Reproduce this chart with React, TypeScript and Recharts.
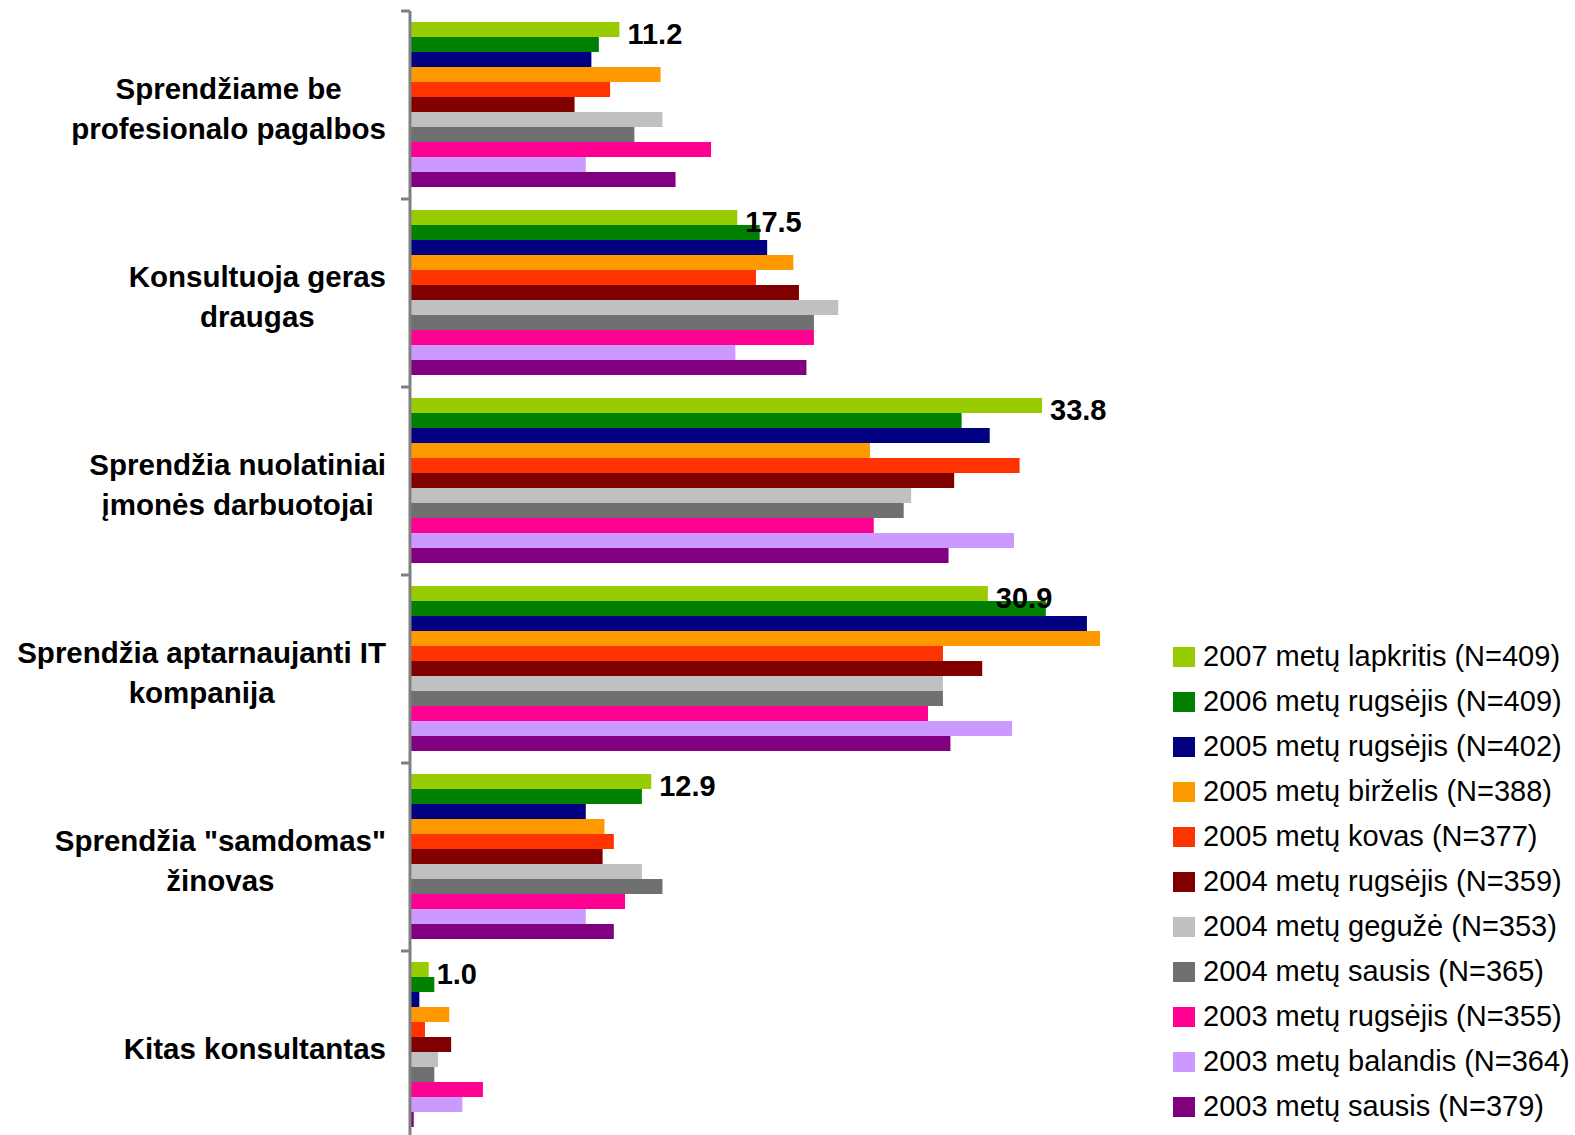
import { BarChart, Bar, XAxis, YAxis, LabelList } from 'recharts';

const categories = [
  ['Sprendžiame be', 'profesionalo pagalbos'],
  ['Konsultuoja geras', 'draugas'],
  ['Sprendžia nuolatiniai', 'įmonės darbuotojai'],
  ['Sprendžia aptarnaujanti IT', 'kompanija'],
  ['Sprendžia "samdomas"', 'žinovas'],
  ['Kitas konsultantas'],
];

const seriesNames = [
  '2007 metų lapkritis (N=409)',
  '2006 metų rugsėjis (N=409)',
  '2005 metų rugsėjis (N=402)',
  '2005 metų birželis (N=388)',
  '2005 metų kovas (N=377)',
  '2004 metų rugsėjis (N=359)',
  '2004 metų gegužė (N=353)',
  '2004 metų sausis (N=365)',
  '2003 metų rugsėjis (N=355)',
  '2003 metų balandis (N=364)',
  '2003 metų sausis (N=379)',
];

const colors = [
  '#99CC00', '#008000', '#000080', '#FF9900', '#FF3300', '#800000',
  '#C0C0C0', '#707070', '#FF0090', '#CC99FF', '#800080',
];

const nov2007 = [11.2, 17.5, 33.8, 30.9, 12.9, 1.0];
const sep2006 = [10.1, 18.7, 29.5, 34.0, 12.4, 1.3];
const sep2005 = [9.7, 19.1, 31.0, 36.2, 9.4, 0.5];
const jun2005 = [13.4, 20.5, 24.6, 36.9, 10.4, 2.1];
const mar2005 = [10.7, 18.5, 32.6, 28.5, 10.9, 0.8];
const sep2004 = [8.8, 20.8, 29.1, 30.6, 10.3, 2.2];
const may2004 = [13.5, 22.9, 26.8, 28.5, 12.4, 1.5];
const jan2004 = [12.0, 21.6, 26.4, 28.5, 13.5, 1.3];
const sep2003 = [16.1, 21.6, 24.8, 27.7, 11.5, 3.9];
const apr2003 = [9.4, 17.4, 32.3, 32.2, 9.4, 2.8];
const jan2003 = [14.2, 21.2, 28.8, 28.9, 10.9, 0.2];

const seriesValues = [
  nov2007, sep2006, sep2005, jun2005, mar2005, sep2004,
  may2004, jan2004, sep2003, apr2003, jan2003,
];

const W = 1575;
const H = 1135;
const M = { top: 11, right: 417, bottom: -4, left: 0 };
const BAND = (H - M.top - M.bottom) / categories.length;
const FONT = "'Liberation Sans', Arial, sans-serif";
const CAT_FONT = `bold 29.5px ${FONT}`;

const data = categories.map((lines, i) => {
  const row: any = { name: lines.join(' '), idx: i };
  seriesNames.forEach((s, k) => {
    row['s' + k] = seriesValues[k][i];
  });
  return row;
});

let ctx: CanvasRenderingContext2D | null = null;
function textWidth(t: string) {
  if (!ctx) ctx = document.createElement('canvas').getContext('2d');
  if (!ctx) return t.length * 15;
  ctx.font = CAT_FONT;
  return ctx.measureText(t).width;
}

function CategoryTick(props: any) {
  const { x, y, index } = props;
  const lines = categories[index];
  const maxW = Math.max(...lines.map(textWidth));
  const cx = x - 24 - maxW / 2;
  const lh = 40;
  const y0 = y + 3 - ((lines.length - 1) * lh) / 2;
  return (
    <g>
      <line x1={x - 9} x2={x} y1={y - BAND / 2} y2={y - BAND / 2} stroke="#808080" strokeWidth={3} />
      {lines.map((l, i) => (
        <text
          key={i}
          x={cx}
          y={y0 + i * lh}
          textAnchor="middle"
          dominantBaseline="central"
          style={{ font: CAT_FONT }}
          fill="#000"
        >
          {l}
        </text>
      ))}
    </g>
  );
}

function ValueLabel(props: any) {
  const { x, y, width, height, value } = props;
  return (
    <text
      x={x + width + 8}
      y={y + height / 2 + 4}
      dominantBaseline="central"
      style={{ font: `bold 29px ${FONT}` }}
      fill="#000"
    >
      {Number(value).toFixed(1)}
    </text>
  );
}

function SeriesLegend() {
  return (
    <div
      style={{
        position: 'absolute',
        left: 1173,
        top: 634,
        fontFamily: FONT,
        fontSize: 29,
        color: '#000',
      }}
    >
      {seriesNames.map((n, k) => (
        <div key={n} style={{ display: 'flex', alignItems: 'center', height: 45, whiteSpace: 'nowrap' }}>
          <span style={{ width: 22, height: 20, background: colors[k], marginRight: 8, flex: 'none' }} />
          <span>{n}</span>
        </div>
      ))}
    </div>
  );
}

export default function App() {
  return (
    <div style={{ position: 'absolute', left: 0, top: 0, width: W, height: H, background: '#fff', overflow: 'hidden' }}>
      <BarChart
        width={W}
        height={H}
        data={data}
        layout="vertical"
        margin={M}
        barCategoryGap={11}
        barGap={0}
      >
        <XAxis type="number" domain={[0, 40]} hide />
        <YAxis
          type="category"
          dataKey="name"
          width={410}
          tickSize={0}
          tickMargin={0}
          tickLine={false}
          axisLine={{ stroke: '#808080', strokeWidth: 3 }}
          tick={<CategoryTick />}
          interval={0}
        />
        {seriesNames.map((n, k) => (
          <Bar key={n} dataKey={'s' + k} name={n} fill={colors[k]} isAnimationActive={false}>
            {k === 0 && <LabelList dataKey={'s' + k} content={<ValueLabel />} />}
          </Bar>
        ))}
      </BarChart>
      <SeriesLegend />
    </div>
  );
}
